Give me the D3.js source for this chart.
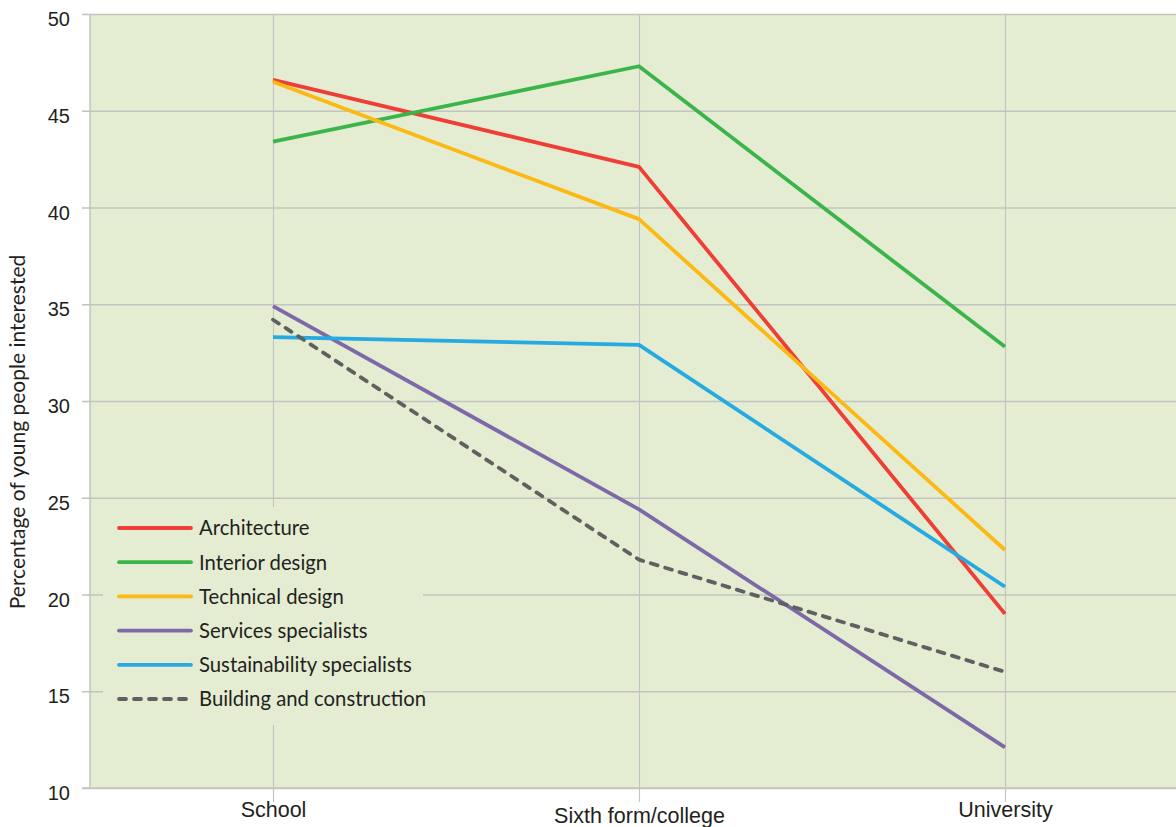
<!DOCTYPE html>
<html><head><meta charset="utf-8">
<script src="https://cdn.jsdelivr.net/npm/d3@7"></script>
<style>
html,body{margin:0;padding:0;background:#fff;}
svg{display:block;font-family:Lato,"Noto Sans",sans-serif;}
</style></head>
<body><svg id="chart" width="1176" height="827"></svg>
<script>
const categories = ["School", "Sixth form/college", "University"];
const seriesNames = ["Architecture", "Interior design", "Technical design", "Services specialists", "Sustainability specialists", "Building and construction"];
const architecture = [46.6, 42.1, 19.0];
const interiorDesign = [43.4, 47.3, 32.8];
const technicalDesign = [46.5, 39.4, 22.3];
const servicesSpecialists = [34.9, 24.4, 12.1];
const sustainabilitySpecialists = [33.3, 32.9, 20.4];
const buildingConstruction = [34.2, 21.8, 16.0];
const yTicks = [10, 15, 20, 25, 30, 35, 40, 45, 50];
const yTitle = "Percentage of young people interested";

const colors = ["#ee3e36", "#3bb54a", "#fcb913", "#7d68a8", "#26aae1", "#5f6060"];
const dashed = [false, false, false, false, false, true];
const values = [architecture, interiorDesign, technicalDesign, servicesSpecialists, sustainabilitySpecialists, buildingConstruction];

(function () {
const svg = d3.select("#chart");
const mLeft = 90, mTop = 14, mBottom = 788, mRight = 1176;
const bg = "#e4edd2", grid = "#c2c4bf";

const x = d3.scalePoint().domain(categories).range([mLeft, mLeft + 366 * 3]).padding(0.5);
const y = d3.scaleLinear().domain([10, 50]).range([mBottom, mTop]);

svg.append("rect").attr("x", mLeft).attr("y", mTop).attr("width", mRight - mLeft).attr("height", mBottom - mTop).attr("fill", bg);

const yAxis = d3.axisLeft(y).tickValues(yTicks).tickSize(-(mRight - mLeft)).tickPadding(20).tickFormat(d3.format("d"));
const gy = svg.append("g").attr("transform", `translate(${mLeft},0)`).call(yAxis);
gy.select(".domain").remove();
gy.selectAll(".tick line").attr("stroke", grid).attr("stroke-width", 1.3).attr("x1", -8);
gy.selectAll(".tick text").attr("fill", "#231f20").attr("font-size", 20).attr("dy", "0.58em").attr("x", -20);

const xAxis = d3.axisBottom(x).tickSize(0);
const gx = svg.append("g").attr("transform", `translate(0,${mBottom})`).call(xAxis);
gx.select(".domain").remove();
gx.selectAll(".tick line").attr("stroke", grid).attr("stroke-width", 1.1).attr("y1", mTop - mBottom).attr("y2", 14);
gx.selectAll(".tick text").attr("fill", "#231f20").attr("font-size", 21.5).attr("y", (d, i) => i === 1 ? 35 : 29).attr("dy", 0);

svg.append("line").attr("x1", mLeft).attr("x2", mLeft).attr("y1", mTop).attr("y2", mBottom).attr("stroke", grid).attr("stroke-width", 1.5);
svg.append("line").attr("x1", mLeft - 8).attr("x2", mRight).attr("y1", mBottom).attr("y2", mBottom).attr("stroke", grid).attr("stroke-width", 1.5);

const line = d3.line().x((d, i) => x(categories[i])).y(d => y(d));
values.forEach((v, k) => {
  svg.append("path").datum(v).attr("d", line).attr("fill", "none")
    .attr("stroke", colors[k]).attr("stroke-width", 3.8)
    .attr("stroke-linejoin", "round")
    .attr("stroke-linecap", dashed[k] ? "round" : "butt")
    .attr("stroke-dasharray", dashed[k] ? "7,8" : null);
});

const lg = svg.append("g");
lg.append("rect").attr("x", 103).attr("y", 507).attr("width", 320).attr("height", 218).attr("fill", bg);
seriesNames.forEach((name, k) => {
  const yy = 528 + k * 34.2;
  lg.append("line").attr("x1", 119).attr("x2", 191).attr("y1", yy).attr("y2", yy)
    .attr("stroke", colors[k]).attr("stroke-width", 3.8)
    .attr("stroke-linecap", "round")
    .attr("stroke-dasharray", dashed[k] ? "7,8" : null);
  lg.append("text").attr("x", 199).attr("y", yy).attr("dy", "0.36em")
    .attr("font-size", 20.3).attr("fill", "#231f20").text(name);
});

svg.append("text").attr("transform", "translate(25,432) rotate(-90)")
  .attr("text-anchor", "middle").attr("font-size", 21).attr("fill", "#231f20").text(yTitle);
})();
</script>
</body></html>
